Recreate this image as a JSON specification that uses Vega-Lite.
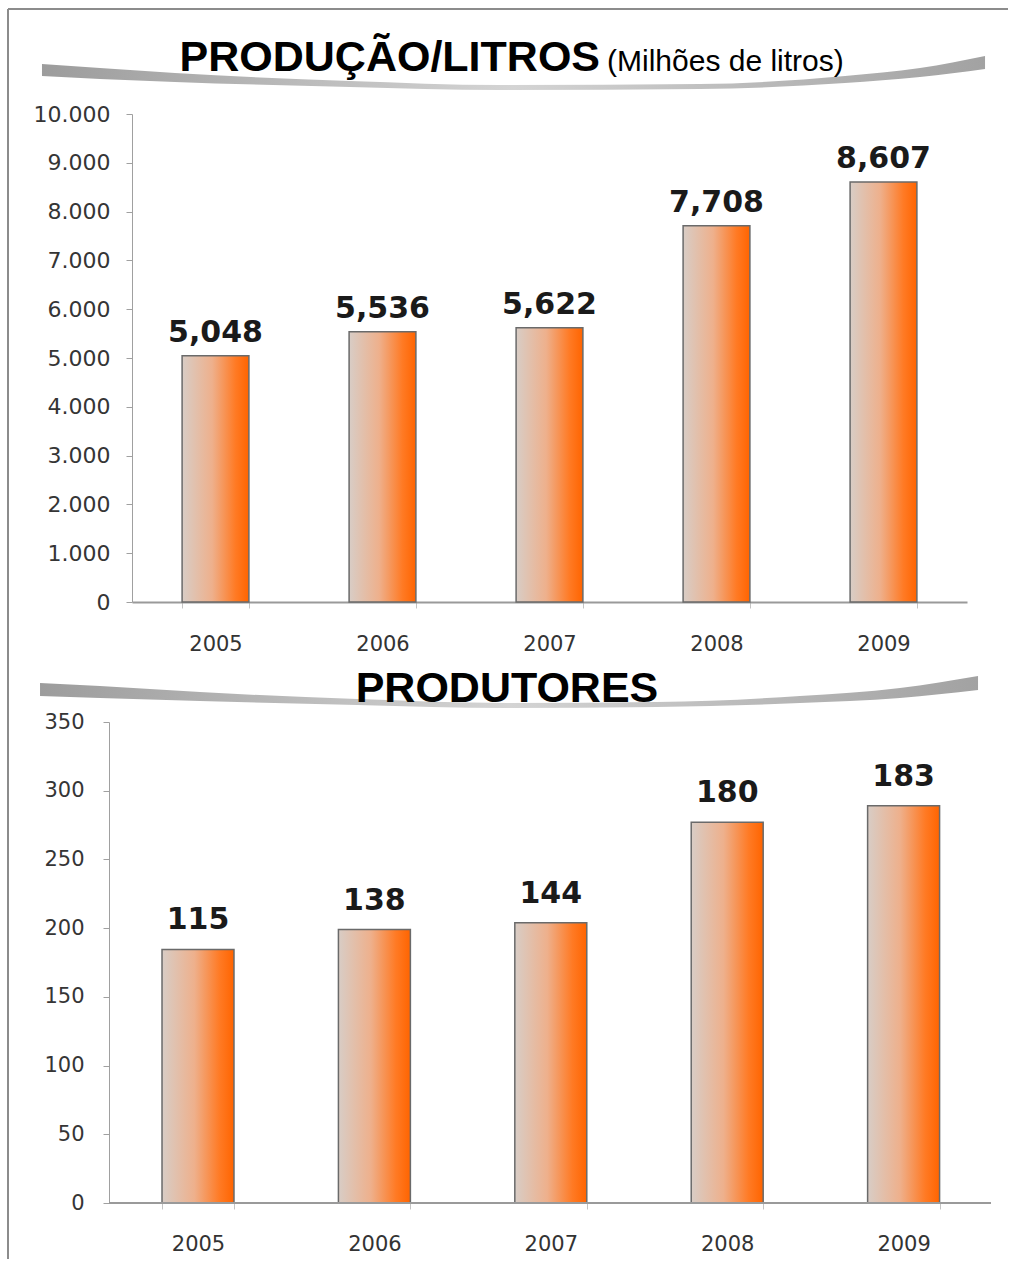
{
  "$schema": "https://vega.github.io/schema/vega-lite/v6.json",
  "background": "white",
  "padding": {"left": 7, "top": 8, "right": 0, "bottom": 0},
  "autosize": {"type": "pad"},
  "bounds": "flush",
  "spacing": 120,
  "config": {"view": {"stroke": null}},
  "vconcat": [
    {
      "width": 835,
      "height": 488,
      "layer": [
        {
          "data": {"values": [
            {"ano": "2005", "producao": 5048},
            {"ano": "2006", "producao": 5536},
            {"ano": "2007", "producao": 5622},
            {"ano": "2008", "producao": 7708},
            {"ano": "2009", "producao": 8607}
          ]},
          "encoding": {
            "x": {"field": "ano", "type": "nominal", "sort": null,
              "scale": {"paddingInner": 0.6, "paddingOuter": 0.3, "align": 0.5},
              "axis": {"title": null, "labelAngle": 0, "tickBand": "extent", "domainColor": "#9a9a9a", "domainWidth": 2, "tickColor": "#c4c4c4", "tickSize": 6, "labelFont": "DejaVu Sans", "labelFontSize": 21, "labelColor": "#333333", "labelPadding": 25}},
            "y": {"field": "producao", "type": "quantitative",
              "scale": {"domain": [0, 10000], "nice": false},
              "axis": {"title": null, "grid": false, "values": [0, 1000, 2000, 3000, 4000, 5000, 6000, 7000, 8000, 9000, 10000], "labelExpr": "replace(format(datum.value, ','), ',', '.')", "domainColor": "#a0a0a0", "tickColor": "#a0a0a0", "tickSize": 6, "labelFont": "DejaVu Sans", "labelFontSize": 22, "labelColor": "#353535", "labelPadding": 16}}
          },
          "layer": [
            {"mark": {"type": "bar", "clip": false, "stroke": "#6a6a6a", "strokeWidth": 1.5,
              "fill": {"gradient": "linear", "x1": 0, "x2": 1, "y1": 0, "y2": 0, "stops": [
                {"offset": 0, "color": "#d8cdc6"},
                {"offset": 0.45, "color": "#eeb08c"},
                {"offset": 0.8, "color": "#ff7a24"},
                {"offset": 1, "color": "#ff6400"}]}}},
            {"mark": {"type": "text", "font": "DejaVu Sans", "fontWeight": "bold", "fontSize": 30, "baseline": "alphabetic", "dy": -14, "color": "#1a1a1a"},
              "encoding": {"text": {"field": "producao", "type": "quantitative", "format": ","}}}
          ]
        },
        {
          "layer": [
            {
              "data": {"values": [
                {"t": -0.1078, "topo": 11025, "base": 10779},
                {"t": -0.0383, "topo": 10943, "base": 10717},
                {"t": 0.0515, "topo": 10840, "base": 10656},
                {"t": 0.2611, "topo": 10676, "base": 10553},
                {"t": 0.4407, "topo": 10594, "base": 10492},
                {"t": 0.6802, "topo": 10615, "base": 10512},
                {"t": 0.8539, "topo": 10779, "base": 10635},
                {"t": 0.9437, "topo": 10943, "base": 10758},
                {"t": 1.0216, "topo": 11189, "base": 10922}
              ]},
              "mark": {"type": "area", "interpolate": "monotone", "clip": false,
                "fill": {"gradient": "linear", "x1": 0, "x2": 1, "y1": 0, "y2": 0, "stops": [
                  {"offset": 0, "color": "#9c9c9c"},
                  {"offset": 0.5, "color": "#d4d4d4"},
                  {"offset": 1, "color": "#a2a2a2"}]}},
              "encoding": {
                "x": {"field": "t", "type": "quantitative", "scale": {"domain": [0, 1], "nice": false, "zero": false}, "axis": null},
                "y": {"field": "topo", "type": "quantitative", "title": null},
                "y2": {"field": "base"}
              }
            },
            {
              "data": {"values": [{}]},
              "mark": {"type": "text", "text": "PRODUÇÃO/LITROS", "font": "Liberation Sans", "fontWeight": "bold", "fontSize": 43, "align": "right", "baseline": "alphabetic", "color": "#000000", "clip": false},
              "encoding": {
                "x": {"datum": 0.5605, "type": "quantitative"},
                "y": {"datum": 10881, "type": "quantitative", "title": null}
              }
            },
            {
              "data": {"values": [{}]},
              "mark": {"type": "text", "text": "(Milhões de litros)", "font": "Liberation Sans", "fontSize": 30, "align": "left", "baseline": "alphabetic", "color": "#000000", "clip": false},
              "encoding": {
                "x": {"datum": 0.5689, "type": "quantitative"},
                "y": {"datum": 10881, "type": "quantitative", "title": null}
              }
            },
            {
              "data": {"values": [{}]},
              "mark": {"type": "rule", "color": "#8c8c8c", "strokeWidth": 2, "clip": false},
              "encoding": {
                "x": {"datum": -0.1485, "type": "quantitative"},
                "x2": {"datum": 1.0491},
                "y": {"datum": 12151, "type": "quantitative", "title": null}
              }
            },
            {
              "data": {"values": [{}]},
              "mark": {"type": "rule", "color": "#8c8c8c", "strokeWidth": 2, "clip": false},
              "encoding": {
                "x": {"datum": -0.1485, "type": "quantitative"},
                "y": {"datum": 12151, "type": "quantitative", "title": null},
                "y2": {"datum": -13463}
              }
            }
          ]
        }
      ],
      "resolve": {"scale": {"x": "independent"}, "axis": {"x": "independent"}}
    },
    {
      "width": 859,
      "height": 481,
      "layer": [
        {
          "data": {"values": [
            {"ano": "2005", "valor": 184.5, "rotulo": 115},
            {"ano": "2006", "valor": 199, "rotulo": 138},
            {"ano": "2007", "valor": 204, "rotulo": 144},
            {"ano": "2008", "valor": 277, "rotulo": 180},
            {"ano": "2009", "valor": 289, "rotulo": 183}
          ]},
          "encoding": {
            "x": {"field": "ano", "type": "nominal", "sort": null,
              "scale": {"paddingInner": 0.592, "paddingOuter": 0.2308, "align": 0.3686},
              "axis": {"title": null, "labelAngle": 0, "tickBand": "extent", "domain": false, "tickColor": "#c4c4c4", "tickSize": 6, "labelFont": "DejaVu Sans", "labelFontSize": 21, "labelColor": "#333333", "labelPadding": 24}},
            "y": {"field": "valor", "type": "quantitative",
              "scale": {"domain": [0, 350], "nice": false},
              "axis": {"title": null, "grid": false, "offset": 23, "values": [0, 50, 100, 150, 200, 250, 300, 350], "domainColor": "#a0a0a0", "tickColor": "#a0a0a0", "tickSize": 6, "labelFont": "DejaVu Sans", "labelFontSize": 21, "labelColor": "#353535", "labelPadding": 19}}
          },
          "layer": [
            {"mark": {"type": "bar", "clip": false, "stroke": "#6a6a6a", "strokeWidth": 1.5,
              "fill": {"gradient": "linear", "x1": 0, "x2": 1, "y1": 0, "y2": 0, "stops": [
                {"offset": 0, "color": "#d8cdc6"},
                {"offset": 0.45, "color": "#eeb08c"},
                {"offset": 0.8, "color": "#ff7a24"},
                {"offset": 1, "color": "#ff6400"}]}}},
            {"mark": {"type": "text", "font": "DejaVu Sans", "fontWeight": "bold", "fontSize": 30, "baseline": "alphabetic", "dy": -20, "color": "#1a1a1a"},
              "encoding": {"text": {"field": "rotulo", "type": "quantitative"}}}
          ]
        },
        {
          "layer": [
            {
              "data": {"values": [
                {"t": -0.0782, "topo": 378.4, "base": 368.9},
                {"t": -0.0102, "topo": 376.2, "base": 367.5},
                {"t": 0.1032, "topo": 371.8, "base": 365.3},
                {"t": 0.2812, "topo": 366.7, "base": 362.4},
                {"t": 0.4512, "topo": 363.8, "base": 360.2},
                {"t": 0.6213, "topo": 364.5, "base": 360.9},
                {"t": 0.7834, "topo": 368.9, "base": 363.8},
                {"t": 0.8968, "topo": 374.7, "base": 367.5},
                {"t": 0.9853, "topo": 383.5, "base": 373.3}
              ]},
              "mark": {"type": "area", "interpolate": "monotone", "clip": false,
                "fill": {"gradient": "linear", "x1": 0, "x2": 1, "y1": 0, "y2": 0, "stops": [
                  {"offset": 0, "color": "#9c9c9c"},
                  {"offset": 0.5, "color": "#d4d4d4"},
                  {"offset": 1, "color": "#a2a2a2"}]}},
              "encoding": {
                "x": {"field": "t", "type": "quantitative", "scale": {"domain": [0.02608, 1], "nice": false, "zero": false}, "axis": null},
                "y": {"field": "topo", "type": "quantitative", "title": null},
                "y2": {"field": "base"}
              }
            },
            {
              "data": {"values": [{}]},
              "mark": {"type": "text", "text": "PRODUTORES", "font": "Liberation Sans", "fontWeight": "bold", "fontSize": 43, "align": "center", "baseline": "alphabetic", "color": "#000000", "clip": false},
              "encoding": {
                "x": {"datum": 0.4512, "type": "quantitative"},
                "y": {"datum": 364.6, "type": "quantitative", "title": null}
              }
            },
            {
              "data": {"values": [{}]},
              "mark": {"type": "rule", "color": "#9a9a9a", "strokeWidth": 2, "clip": false},
              "encoding": {
                "x": {"datum": 0, "type": "quantitative"},
                "x2": {"datum": 1},
                "y": {"datum": 0, "type": "quantitative", "title": null}
              }
            }
          ]
        }
      ],
      "resolve": {"scale": {"x": "independent"}, "axis": {"x": "independent"}}
    }
  ]
}
